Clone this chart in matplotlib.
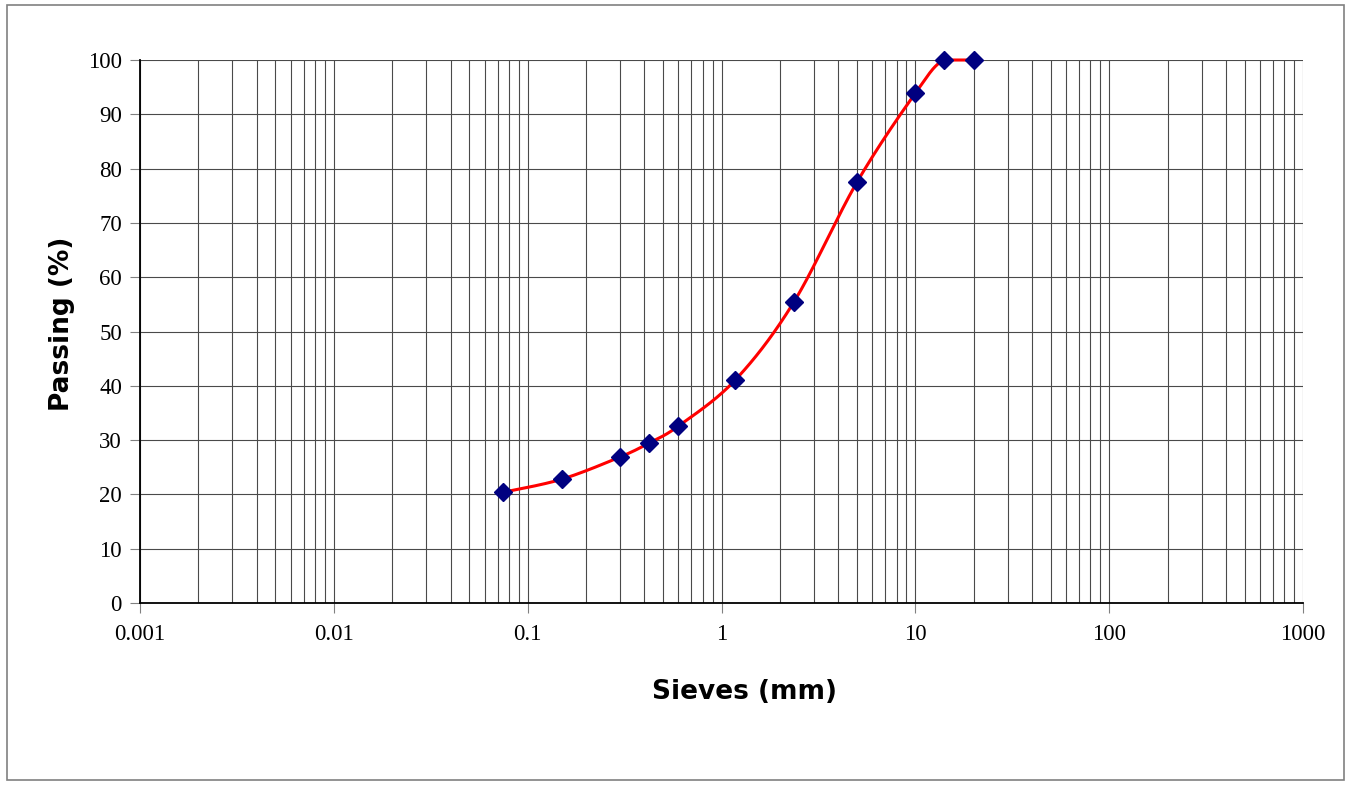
import numpy as np
import matplotlib
matplotlib.use("Agg")
import matplotlib.pyplot as plt
from matplotlib.patches import Rectangle
from matplotlib.ticker import FixedLocator, NullFormatter

sieves = [0.075, 0.15, 0.3, 0.425, 0.6, 1.18, 2.36, 5, 10, 14, 20]
passing = [20.4, 22.8, 26.9, 29.5, 32.6, 41.1, 55.4, 77.5, 93.9, 100, 100]
x_ticks = [0.001, 0.01, 0.1, 1, 10, 100, 1000]
x_tick_labels = ["0.001", "0.01", "0.1", "1", "10", "100", "1000"]
y_ticks = list(range(0, 101, 10))

W, H = 1352, 786
fig = plt.figure(figsize=(W / 100, H / 100), dpi=100)
fig.patches.append(Rectangle((7 / W, 1 - 780 / H), (1344 - 7) / W, (780 - 5) / H,
                             transform=fig.transFigure, fill=False,
                             edgecolor="#808080", linewidth=1.2))

ax = fig.add_axes([140 / W, 1 - 603 / H, (1303 - 140) / W, (603 - 60) / H])
ax.set_xscale("log")
ax.set_xlim(0.001, 1000)
ax.set_ylim(0, 100)

# gridlines
grid_c = "#4a4a4a"
for dec in range(-3, 3):
    for m in range(1, 10):
        ax.axvline(m * 10.0 ** dec, color=grid_c, lw=0.8, zorder=1)
ax.axvline(1000, color=grid_c, lw=0.8, zorder=1)
for yv in y_ticks:
    ax.axhline(yv, color=grid_c, lw=0.8, zorder=1)

# Excel-like smoothed line (Catmull-Rom in display space)
lx = np.log10(np.array(sieves, dtype=float))
yy = np.array(passing, dtype=float)
sx = (1303 - 140) / 6.0
sy = (603 - 60) / 100.0
P = np.column_stack([lx * sx, yy * sy])
pts = []
n = len(P)
for i in range(n - 1):
    p0 = P[i - 1] if i > 0 else P[i]
    p1 = P[i]
    p2 = P[i + 1]
    p3 = P[i + 2] if i + 2 < n else P[i + 1]
    c1 = p1 + (p2 - p0) / 6.0
    c2 = p2 - (p3 - p1) / 6.0
    t = np.linspace(0, 1, 40)[:, None]
    seg = ((1 - t) ** 3) * p1 + 3 * ((1 - t) ** 2) * t * c1 + 3 * (1 - t) * t ** 2 * c2 + t ** 3 * p2
    pts.append(seg if i == 0 else seg[1:])
pts = np.vstack(pts)
curve_x = 10 ** (pts[:, 0] / sx)
curve_y = np.minimum(pts[:, 1] / sy, 100.0)
ax.plot(curve_x, curve_y, color="#ff0000", lw=2.2, zorder=3,
        solid_capstyle="round", clip_on=False)
ax.plot(sieves, passing, linestyle="none", marker="D", markersize=9,
        color="#000080", markeredgecolor="#000080", zorder=4, clip_on=False)

ax.xaxis.set_major_locator(FixedLocator(x_ticks))
ax.set_xticklabels(x_tick_labels)
ax.xaxis.set_minor_formatter(NullFormatter())
ax.tick_params(axis="x", which="minor", length=0)
ax.set_yticks(y_ticks)
ax.tick_params(axis="both", which="major", direction="out", length=7, width=0.8,
               color="#808080", labelsize=16.5)
ax.tick_params(axis="x", pad=8)
ax.tick_params(axis="y", pad=6)
for lab in ax.get_xticklabels() + ax.get_yticklabels():
    lab.set_fontfamily("Liberation Serif")

for s in ["top", "right"]:
    ax.spines[s].set_visible(False)
for s in ["left", "bottom"]:
    ax.spines[s].set_color("black")
    ax.spines[s].set_linewidth(1.3)
    ax.spines[s].set_zorder(5)

fig.text(744 / W, 1 - 692 / H, "Sieves (mm)", ha="center", va="center",
         fontsize=19, fontweight="bold", family="DejaVu Sans")
fig.text(62 / W, 1 - 324 / H, "Passing (%)", ha="center", va="center", rotation=90,
         fontsize=19, fontweight="bold", family="DejaVu Sans")

fig.savefig("out.png", dpi=100)
